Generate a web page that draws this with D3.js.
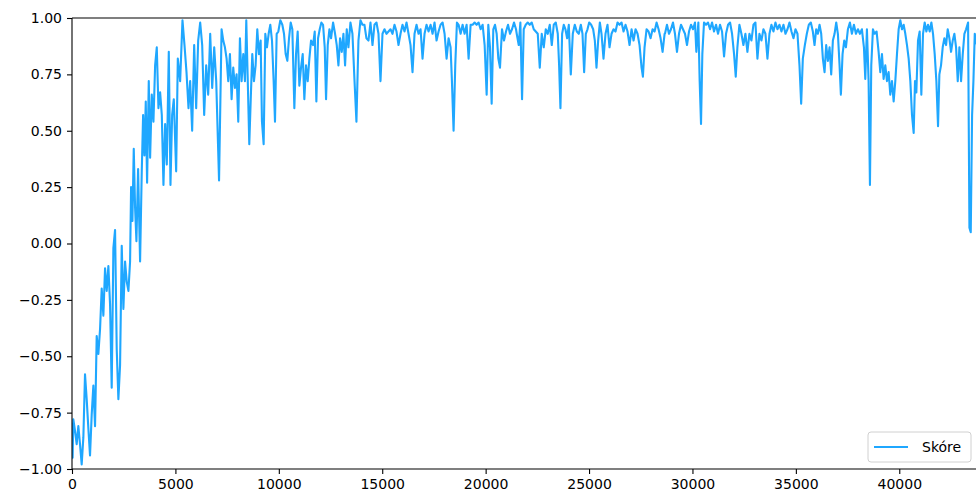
<!DOCTYPE html>
<html>
<head>
<meta charset="utf-8">
<script src="https://cdn.jsdelivr.net/npm/d3@7"></script>
<style>
  html, body { margin: 0; padding: 0; background: #fff; }
  svg { display: block; }
  text { font-family: "DejaVu Sans", sans-serif; }
</style>
</head>
<body>
<svg id="chart" width="976" height="497"></svg>
<script>
// Training steps (x) and the score reached at each step (y)
const steps = [
  0, 30, 64, 145, 226, 307, 387, 468, 549, 629, 710, 791, 871, 952, 1033, 1114, 1194, 1275, 1356, 1436,
  1517, 1598, 1678, 1759, 1840, 1920, 2001, 2082, 2163, 2243, 2324, 2405, 2485, 2566, 2647, 2728, 2808, 2857, 2921, 2986,
  3050, 3115, 3196, 3292, 3373, 3438, 3502, 3567, 3631, 3712, 3777, 3857, 3938, 4019, 4099, 4180, 4261, 4342, 4422, 4503,
  4584, 4680, 4761, 4842, 4922, 5036, 5116, 5229, 5342, 5439, 5536, 5633, 5713, 5810, 5907, 6004, 6101, 6198, 6295, 6391,
  6488, 6585, 6682, 6779, 6876, 6973, 7110, 7232, 7313, 7394, 7475, 7555, 7636, 7717, 7797, 7878, 7959, 8039, 8120, 8201,
  8282, 8362, 8427, 8491, 8572, 8653, 8717, 8798, 8878, 8959, 9040, 9121, 9185, 9266, 9347, 9427, 9508, 9589, 9670, 9750,
  9815, 9896, 9976, 10073, 10170, 10251, 10331, 10412, 10493, 10574, 10654, 10751, 10832, 10912, 10993, 11074, 11155, 11235, 11316, 11397,
  11477, 11558, 11655, 11736, 11816, 11897, 11978, 12058, 12139, 12220, 12284, 12365, 12446, 12526, 12623, 12720, 12801, 12882, 12962, 13043,
  13124, 13204, 13285, 13366, 13463, 13560, 13656, 13753, 13850, 13947, 14044, 14140, 14237, 14335, 14432, 14529, 14625, 14722, 14819, 14916,
  15013, 15110, 15206, 15303, 15400, 15497, 15594, 15691, 15787, 15884, 15981, 16078, 16175, 16272, 16368, 16465, 16562, 16659, 16756, 16853,
  16949, 17046, 17143, 17240, 17337, 17434, 17530, 17627, 17724, 17821, 17918, 18015, 18112, 18208, 18305, 18370, 18450, 18531, 18612, 18693,
  18790, 18886, 18983, 19080, 19177, 19274, 19371, 19467, 19564, 19661, 19758, 19855, 19952, 20049, 20129, 20210, 20291, 20371, 20452, 20533,
  20614, 20694, 20791, 20888, 20985, 21082, 21178, 21275, 21372, 21469, 21503, 21600, 21680, 21761, 21842, 21939, 22035, 22132, 22229, 22326,
  22423, 22520, 22617, 22713, 22810, 22907, 23004, 23101, 23198, 23294, 23391, 23488, 23553, 23617, 23698, 23779, 23859, 23940, 24021, 24118,
  24214, 24311, 24408, 24505, 24602, 24683, 24763, 24844, 24925, 25006, 25102, 25199, 25280, 25360, 25441, 25522, 25603, 25699, 25796, 25893,
  25990, 26087, 26184, 26280, 26377, 26474, 26571, 26668, 26764, 26861, 26958, 27055, 27152, 27249, 27345, 27442, 27539, 27604, 27684, 27781,
  27878, 27975, 28072, 28169, 28266, 28362, 28459, 28556, 28653, 28671, 28768, 28865, 28961, 29058, 29155, 29252, 29349, 29446, 29542, 29639,
  29736, 29833, 29930, 30027, 30123, 30188, 30285, 30349, 30414, 30478, 30559, 30656, 30753, 30850, 30947, 31043, 31140, 31237, 31334, 31431,
  31528, 31624, 31721, 31818, 31915, 32012, 32093, 32173, 32270, 32367, 32464, 32561, 32657, 32754, 32851, 32948, 33045, 33142, 33238, 33335,
  33432, 33529, 33626, 33723, 33819, 33916, 34013, 34110, 34207, 34304, 34400, 34497, 34594, 34691, 34788, 34885, 34981, 35078, 35175, 35256,
  35337, 35434, 35530, 35627, 35724, 35821, 35902, 35983, 36064, 36145, 36225, 36306, 36387, 36467, 36548, 36629, 36709, 36790, 36871, 36952,
  37032, 37113, 37177, 37258, 37339, 37420, 37516, 37613, 37710, 37807, 37904, 38001, 38097, 38194, 38291, 38356, 38436, 38517, 38582, 38646,
  38727, 38808, 38904, 39001, 39082, 39163, 39243, 39324, 39405, 39485, 39566, 39647, 39728, 39808, 39889, 39970, 40050, 40131, 40212, 40292,
  40373, 40454, 40535, 40615, 40696, 40761, 40825, 40906, 40987, 41067, 41148, 41229, 41310, 41390, 41471, 41552, 41632, 41713, 41794, 41874,
  41939, 42019, 42100, 42181, 42262, 42342, 42423, 42504, 42585, 42665, 42746, 42827, 42907, 42988, 43069, 43149, 43230, 43327, 43392, 43456,
  43521, 43585, 43650, 43714, 43779
];

const scores = [
  -0.80, -0.95, -0.78, -0.83, -0.89, -0.81, -0.89, -0.98, -0.86, -0.58, -0.69, -0.82, -0.94, -0.76, -0.63, -0.81, -0.41, -0.49, -0.38, -0.20,
  -0.32, -0.11, -0.21, -0.10, -0.27, -0.64, -0.02, 0.06, -0.47, -0.69, -0.54, -0.01, -0.29, -0.08, -0.17, -0.21, -0.08, 0.25, 0.10, 0.42,
  0.16, 0.01, 0.33, -0.08, 0.32, 0.57, 0.39, 0.63, 0.27, 0.72, 0.38, 0.66, 0.54, 0.79, 0.87, 0.60, 0.67, 0.57, 0.26, 0.53,
  0.35, 0.85, 0.26, 0.57, 0.64, 0.32, 0.82, 0.72, 0.99, 0.88, 0.76, 0.60, 0.72, 0.50, 0.88, 0.60, 0.90, 0.98, 0.88, 0.57,
  0.79, 0.66, 0.93, 0.69, 0.87, 0.72, 0.28, 0.95, 0.90, 0.87, 0.82, 0.72, 0.84, 0.64, 0.78, 0.69, 0.75, 0.54, 0.91, 0.72,
  0.84, 0.72, 0.99, 0.75, 0.44, 0.67, 0.84, 0.72, 0.79, 0.95, 0.84, 0.90, 0.54, 0.44, 0.93, 0.87, 0.93, 0.97, 0.90, 0.72,
  0.54, 0.93, 0.94, 0.99, 0.97, 0.93, 0.84, 0.81, 0.91, 0.98, 0.95, 0.60, 0.84, 0.94, 0.70, 0.78, 0.84, 0.64, 0.79, 0.72,
  0.82, 0.90, 0.88, 0.94, 0.63, 0.91, 0.95, 0.98, 0.97, 0.87, 0.64, 0.88, 0.95, 0.91, 0.98, 0.93, 0.88, 0.79, 0.91, 0.85,
  0.93, 0.79, 0.95, 0.87, 0.98, 0.93, 0.73, 0.54, 0.90, 0.99, 0.97, 0.97, 0.91, 0.90, 0.98, 0.88, 0.97, 0.98, 0.93, 0.72,
  0.93, 0.95, 0.93, 0.94, 0.95, 0.93, 0.97, 0.94, 0.88, 0.93, 0.97, 0.94, 0.98, 0.93, 0.88, 0.76, 0.93, 0.97, 0.93, 0.95,
  0.82, 0.93, 0.97, 0.94, 0.97, 0.93, 0.98, 0.90, 0.94, 0.97, 0.98, 0.93, 0.82, 0.91, 0.87, 0.72, 0.50, 0.79, 0.98, 0.97,
  0.93, 0.97, 0.93, 0.97, 0.82, 0.97, 0.97, 0.98, 0.97, 0.98, 0.95, 0.97, 0.88, 0.66, 0.97, 0.87, 0.62, 0.95, 0.97, 0.93,
  0.82, 0.78, 0.95, 0.90, 0.94, 0.97, 0.93, 0.95, 0.98, 0.95, 0.93, 0.88, 0.98, 0.64, 0.95, 0.97, 0.98, 0.97, 0.98, 0.95,
  0.94, 0.93, 0.78, 0.93, 0.87, 0.95, 0.93, 0.97, 0.88, 0.97, 0.98, 0.93, 0.79, 0.60, 0.93, 0.97, 0.95, 0.91, 0.97, 0.75,
  0.93, 0.97, 0.94, 0.93, 0.97, 0.93, 0.76, 0.93, 0.95, 0.98, 0.97, 0.95, 0.90, 0.78, 0.90, 0.98, 0.93, 0.82, 0.93, 0.97,
  0.87, 0.93, 0.95, 0.94, 0.98, 0.97, 0.98, 0.94, 0.97, 0.94, 0.88, 0.95, 0.90, 0.95, 0.93, 0.88, 0.78, 0.74, 0.87, 0.95,
  0.94, 0.91, 0.95, 0.94, 0.98, 0.95, 0.91, 0.85, 0.93, 0.93, 0.97, 0.93, 0.95, 0.98, 0.93, 0.85, 0.93, 0.97, 0.95, 0.93,
  0.88, 0.94, 0.97, 0.95, 0.98, 0.85, 0.98, 0.72, 0.53, 0.84, 0.98, 0.97, 0.98, 0.95, 0.98, 0.94, 0.97, 0.93, 0.97, 0.94,
  0.83, 0.93, 0.97, 0.98, 0.93, 0.84, 0.74, 0.87, 0.97, 0.93, 0.88, 0.93, 0.85, 0.93, 0.90, 0.97, 0.98, 0.82, 0.93, 0.90,
  0.95, 0.93, 0.82, 0.93, 0.97, 0.94, 0.98, 0.95, 0.97, 0.94, 0.97, 0.93, 0.95, 0.98, 0.94, 0.91, 0.95, 0.93, 0.79, 0.62,
  0.82, 0.88, 0.93, 0.97, 0.98, 0.94, 0.88, 0.95, 0.93, 0.97, 0.93, 0.82, 0.76, 0.88, 0.81, 0.87, 0.75, 0.90, 0.93, 0.98,
  0.93, 0.79, 0.66, 0.84, 0.90, 0.87, 0.95, 0.98, 0.93, 0.97, 0.93, 0.95, 0.93, 0.95, 0.87, 0.73, 0.95, 0.72, 0.26, 0.79,
  0.95, 0.93, 0.94, 0.85, 0.76, 0.84, 0.73, 0.79, 0.72, 0.76, 0.66, 0.72, 0.63, 0.72, 0.84, 0.95, 0.99, 0.95, 0.97, 0.93,
  0.88, 0.82, 0.72, 0.57, 0.49, 0.72, 0.67, 0.90, 0.94, 0.66, 0.93, 0.98, 0.94, 0.97, 0.94, 0.98, 0.93, 0.84, 0.72, 0.52,
  0.75, 0.79, 0.87, 0.91, 0.88, 0.95, 0.91, 0.85, 0.90, 0.93, 0.87, 0.72, 0.87, 0.72, 0.84, 0.93, 0.95, 0.98, 0.07, 0.05,
  0.57, 0.72, 0.93, 0.90, 0.87
];

const yTicks = [-1.00, -0.75, -0.50, -0.25, 0.00, 0.25, 0.50, 0.75, 1.00];
const xTicks = [0, 5000, 10000, 15000, 20000, 25000, 30000, 35000, 40000];
const seriesName = "Skóre";

const svg = d3.select("#chart");
const plotLeft = 72, plotTop = 18, plotBottom = 469, plotRight = 982;

const x = d3.scaleLinear().domain([0, 44000]).range([plotLeft, plotRight]);
const y = d3.scaleLinear().domain([-1, 1]).range([plotBottom, plotTop]);

svg.append("defs").append("clipPath").attr("id", "plotClip")
  .append("rect").attr("x", plotLeft).attr("y", plotTop)
  .attr("width", plotRight - plotLeft).attr("height", plotBottom - plotTop);

const n = Math.min(steps.length, scores.length);
const data = d3.range(n).map(i => [steps[i], scores[i]]);

svg.append("path")
  .datum(data)
  .attr("clip-path", "url(#plotClip)")
  .attr("fill", "none")
  .attr("stroke", "#1fa7ff")
  .attr("stroke-width", 2.1)
  .attr("stroke-linejoin", "round")
  .attr("stroke-linecap", "square")
  .attr("d", d3.line().x(d => x(d[0])).y(d => y(d[1])));

// Axes
const xAxis = d3.axisBottom(x).tickValues(xTicks).tickFormat(d3.format("d"))
  .tickSize(5).tickPadding(5);
const yAxis = d3.axisLeft(y).tickValues(yTicks)
  .tickFormat(d => d3.format(".2f")(d).replace("-", "\u2212"))
  .tickSize(5).tickPadding(5);

const gx = svg.append("g").attr("transform", `translate(0,${plotBottom})`).call(xAxis);
const gy = svg.append("g").attr("transform", `translate(${plotLeft},0)`).call(yAxis);
[gx, gy].forEach(g => {
  g.select(".domain").remove();
  g.selectAll(".tick line").attr("stroke", "#000").attr("stroke-width", 1.1);
  g.selectAll(".tick text").attr("fill", "#000").style("font-size", "14px")
    .style("font-family", "'DejaVu Sans', sans-serif");
});

// Spines: left, top, bottom (the right side lies past the visible area)
const spine = svg.append("g").attr("stroke", "#000").attr("stroke-width", 1.1).attr("fill", "none");
spine.append("line").attr("x1", plotLeft).attr("x2", plotLeft).attr("y1", plotTop).attr("y2", plotBottom);
spine.append("line").attr("x1", plotLeft).attr("x2", plotRight).attr("y1", plotTop).attr("y2", plotTop);
spine.append("line").attr("x1", plotLeft).attr("x2", plotRight).attr("y1", plotBottom).attr("y2", plotBottom);

// Legend
const lg = svg.append("g").attr("transform", "translate(868,432)");
lg.append("rect").attr("width", 103).attr("height", 30).attr("rx", 3)
  .attr("fill", "#fff").attr("fill-opacity", 0.8)
  .attr("stroke", "#d0d0d0").attr("stroke-width", 1);
lg.append("line").attr("x1", 6).attr("x2", 40).attr("y1", 15).attr("y2", 15)
  .attr("stroke", "#1fa7ff").attr("stroke-width", 2.1);
lg.append("text").attr("x", 54).attr("y", 20).text(seriesName)
  .style("font-size", "14px").attr("fill", "#000");
</script>
</body>
</html>
